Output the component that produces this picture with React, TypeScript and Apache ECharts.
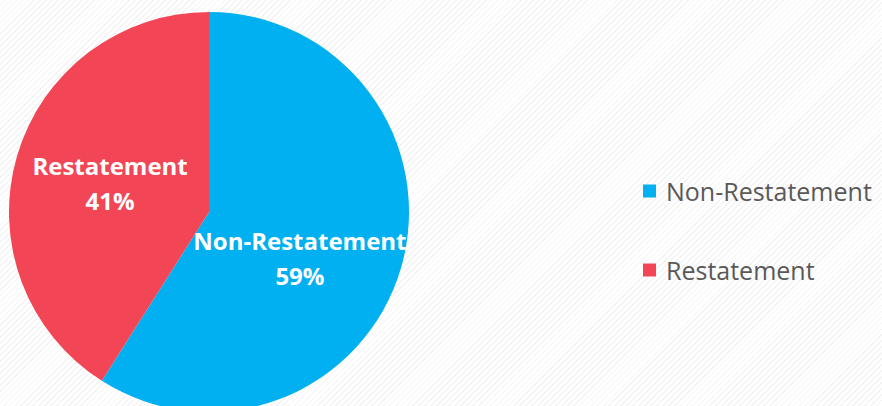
import React, { useEffect, useRef } from "react";
import * as echarts from "echarts";

const categories = ["Non-Restatement", "Restatement"];
const values = [59, 41];
const colors = ["#00B0F0", "#F24656"];

export default function App() {
  const ref = useRef<HTMLDivElement>(null);
  useEffect(() => {
    const chart = echarts.init(ref.current!, null, { renderer: "svg" });
    chart.setOption({
      animation: false,
      legend: {
        orient: "vertical",
        left: 643,
        top: 176,
        padding: 0,
        itemWidth: 13,
        itemHeight: 13,
        itemGap: 49,
        icon: "rect",
        data: categories,
        textStyle: {
          fontFamily: "Open Sans",
          fontSize: 25,
          color: "#595959",
          padding: [0, 0, 0, 5],
          lineHeight: 30,
        },
      },
      series: [
        {
          type: "pie",
          center: [209, 212],
          radius: 200,
          startAngle: 90,
          clockwise: true,
          data: categories.map((c, i) => ({
            name: c,
            value: values[i],
            itemStyle: { color: colors[i] },
            label: i === 0 ? { offset: [-8, 17] } : {},
          })),
          label: {
            show: true,
            position: "inside",
            formatter: "{b}\n{d}%",
            color: "#fff",
            fontFamily: "Open Sans",
            fontWeight: "bold",
            fontSize: 24,
            lineHeight: 35,
          },
          labelLine: { show: false },
          emphasis: { disabled: true },
        },
      ],
    });
    return () => chart.dispose();
  }, []);
  return (
    <div
      ref={ref}
      style={{
        position: "fixed",
        left: 0,
        top: 0,
        width: 882,
        height: 406,
        background:
          "repeating-linear-gradient(135deg, #ffffff 0px, #ffffff 3px, #f3f3f3 3px, #f3f3f3 4.2px)",
      }}
    />
  );
}
